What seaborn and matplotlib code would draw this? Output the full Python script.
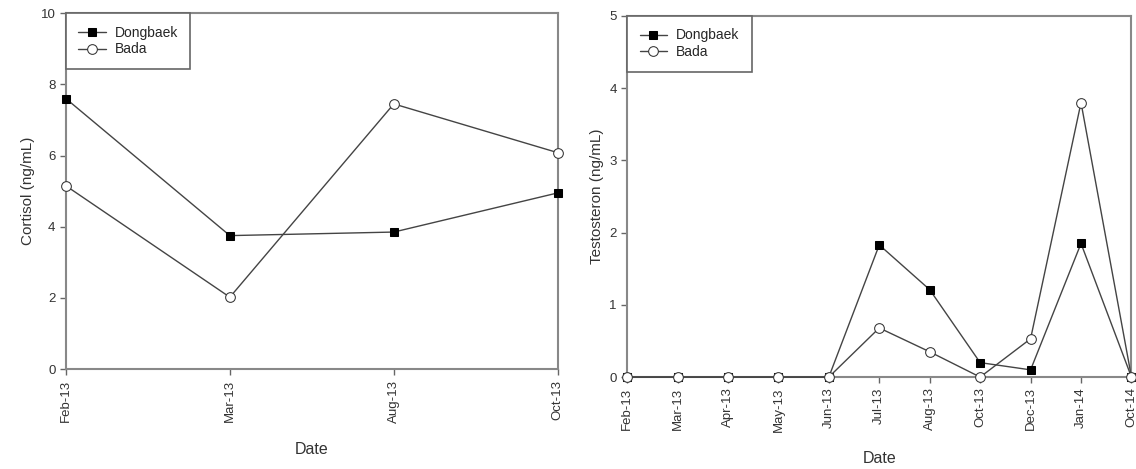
import pandas as pd
import seaborn as sns
import matplotlib.pyplot as plt

dates_c = ["Feb-13", "Mar-13", "Aug-13", "Oct-13"]
cortisol_dongbaek = [7.6, 3.75, 3.85, 4.95]
cortisol_bada = [5.15, 2.02, 7.45, 6.08]

dates_t = ["Feb-13", "Mar-13", "Apr-13", "May-13", "Jun-13", "Jul-13",
           "Aug-13", "Oct-13", "Dec-13", "Jan-14", "Oct-14"]
testo_dongbaek = [0, 0, 0, 0, 0, 1.83, 1.21, 0.2, 0.1, 1.85, 0]
testo_bada = [0, 0, 0, 0, 0, 0.68, 0.35, 0, 0.53, 3.8, 0]

sns.set_style("white")
plt.rcParams['font.family'] = ['Liberation Sans', 'DejaVu Sans']

fig = plt.figure(figsize=(11.36, 4.69), dpi=100)
ax1 = fig.add_axes([0.058, 0.213, 0.433, 0.759])
ax2 = fig.add_axes([0.552, 0.196, 0.444, 0.770])


def draw(ax, dates, dong, bada, ymax, ylabel):
    df = pd.DataFrame({"pos": range(len(dates)), "Dongbaek": dong, "Bada": bada})
    sns.lineplot(data=df, x="pos", y="Dongbaek", ax=ax, color="#444444", lw=1,
                 marker="s", markersize=6, markerfacecolor="black",
                 markeredgecolor="black", label="Dongbaek", zorder=3)
    sns.lineplot(data=df, x="pos", y="Bada", ax=ax, color="#444444", lw=1,
                 marker="o", markersize=7, markerfacecolor="white",
                 markeredgecolor="#333333", label="Bada", zorder=4)
    ax.set_xlim(0, len(dates) - 1)
    ax.set_ylim(0, ymax)
    ax.set_xticks(range(len(dates)))
    ax.set_xticklabels(dates, rotation=90, fontsize=9.5, color="#333333")
    ax.tick_params(axis="y", labelsize=9.5, colors="#333333")
    ax.tick_params(length=4, width=1, direction="out", color="#666666",
                   bottom=True, left=True)
    ax.set_xlabel("Date", fontsize=11.5, color="#333333", labelpad=14)
    ax.set_ylabel(ylabel, fontsize=11, color="#333333")
    for s in ax.spines.values():
        s.set_color("#888888")
        s.set_linewidth(1.5)
    leg = ax.legend(loc="upper left", borderaxespad=0, fontsize=10,
                    fancybox=False, framealpha=1, handlelength=2.0,
                    handletextpad=0.6, borderpad=0.9, labelspacing=0.2)
    leg.get_frame().set_edgecolor("#666666")
    leg.get_frame().set_linewidth(1.2)


draw(ax1, dates_c, cortisol_dongbaek, cortisol_bada, 10, "Cortisol (ng/mL)")
draw(ax2, dates_t, testo_dongbaek, testo_bada, 5, "Testosteron (ng/mL)")
ax1.set_yticks([0, 2, 4, 6, 8, 10])

for ax in (ax1, ax2):
    for line in ax.lines:
        line.set_clip_on(False)

fig.savefig("out.png", dpi=100)
